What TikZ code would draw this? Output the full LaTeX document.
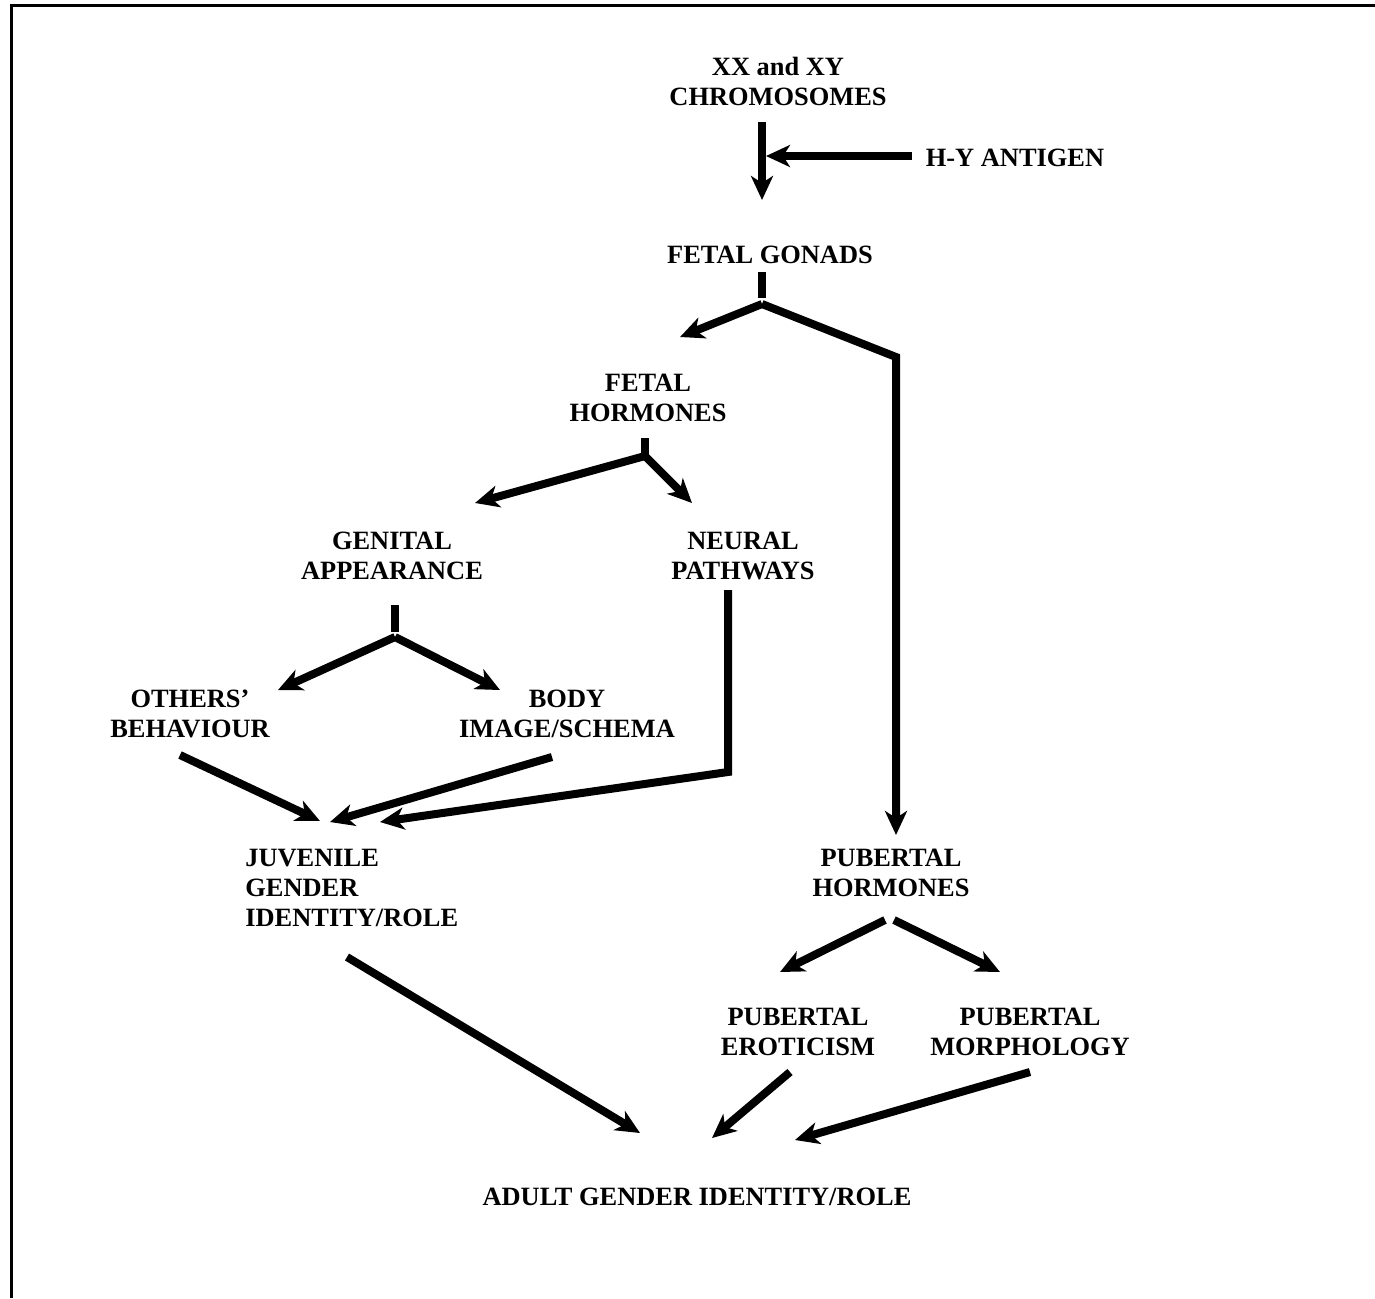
\documentclass[tikz,border=0pt]{standalone}
\usepackage{fontspec}
\setmainfont{Liberation Serif}
\usetikzlibrary{arrows.meta}
\begin{document}
\begin{tikzpicture}[x=0.5pt,y=-0.5pt,
  lbl/.style={font=\bfseries\fontsize{13.2}{15}\selectfont, align=center, inner sep=0pt},
  conn/.style={line width=4pt, line cap=butt, line join=miter},
  arr/.style={conn, -{Stealth[length=12pt,width=11pt,inset=3.5pt]}}]
\useasboundingbox (0,0) rectangle (1375,1298);
% frame (left and top edges)
\draw[line width=1.5pt] (11.5,1298) -- (11.5,5) -- (1375,5);
% labels
\node[lbl] (chrom) at (778,81) {XX and XY\\CHROMOSOMES};
\node[lbl] (hy) at (1015,158) {H-Y ANTIGEN};
\node[lbl] (gonads) at (770,255) {FETAL GONADS};
\node[lbl] (fhorm) at (648,398) {FETAL\\HORMONES};
\node[lbl] (genital) at (392,556) {GENITAL\\APPEARANCE};
\node[lbl] (neural) at (743,556) {NEURAL\\PATHWAYS};
\node[lbl] (others) at (190,714) {OTHERS'\\BEHAVIOUR};
\node[lbl] (body) at (567,714) {BODY\\IMAGE/SCHEMA};
\node[lbl, align=left, anchor=west] (juv) at (245,888) {JUVENILE\\GENDER\\IDENTITY/ROLE};
\node[lbl] (phorm) at (891,873) {PUBERTAL\\HORMONES};
\node[lbl] (erot) at (798,1032) {PUBERTAL\\EROTICISM};
\node[lbl] (morph) at (1030,1032) {PUBERTAL\\MORPHOLOGY};
\node[lbl] (adult) at (697,1197) {ADULT GENDER IDENTITY/ROLE};
% connector points
\coordinate (c1) at (762,122);
\coordinate (c1t) at (762,200);
\coordinate (hys) at (912,156);
\coordinate (hyt) at (766,156);
\coordinate (g1) at (762,272);
\coordinate (g2) at (762,298);
\coordinate (gj) at (762,304);
\coordinate (gl) at (680,337);
\coordinate (gc) at (896,357);
\coordinate (gp) at (896,835);
\coordinate (f1) at (645,438);
\coordinate (f2) at (645,460);
\coordinate (fj) at (645,456);
\coordinate (fl) at (475,503);
\coordinate (fr) at (692,503);
\coordinate (a1) at (395,605);
\coordinate (a2) at (395,632);
\coordinate (aj) at (395,637);
\coordinate (al) at (278,690);
\coordinate (ar) at (500,690);
\coordinate (os) at (180,755);
\coordinate (ot) at (320,821);
\coordinate (bs) at (552,757);
\coordinate (bt) at (330,822);
\coordinate (ns) at (728,590);
\coordinate (nc) at (728,772);
\coordinate (nt) at (380,822);
\coordinate (js) at (347,957);
\coordinate (jt) at (640,1133);
\coordinate (es) at (790,1072);
\coordinate (et) at (712,1138);
\coordinate (ms) at (1030,1072);
\coordinate (mt) at (795,1140);
\coordinate (p1) at (885,920);
\coordinate (p1t) at (780,972);
\coordinate (p2) at (894,920);
\coordinate (p2t) at (1000,972);
% connectors
\draw[arr] (c1) -- (c1t);
\draw[arr] (hys) -- (hyt);
\draw[conn] (g1) -- (g2);
\draw[arr] (gj) -- (gl);
\draw[arr] (gj) -- (gc) -- (gp);
\draw[conn] (f1) -- (f2);
\draw[arr] (fj) -- (fl);
\draw[arr] (fj) -- (fr);
\draw[conn] (a1) -- (a2);
\draw[arr] (aj) -- (al);
\draw[arr] (aj) -- (ar);
\draw[arr] (os) -- (ot);
\draw[arr] (bs) -- (bt);
\draw[arr] (ns) -- (nc) -- (nt);
\draw[arr] (js) -- (jt);
\draw[arr] (es) -- (et);
\draw[arr] (ms) -- (mt);
\draw[arr] (p1) -- (p1t);
\draw[arr] (p2) -- (p2t);
\end{tikzpicture}
\end{document}
